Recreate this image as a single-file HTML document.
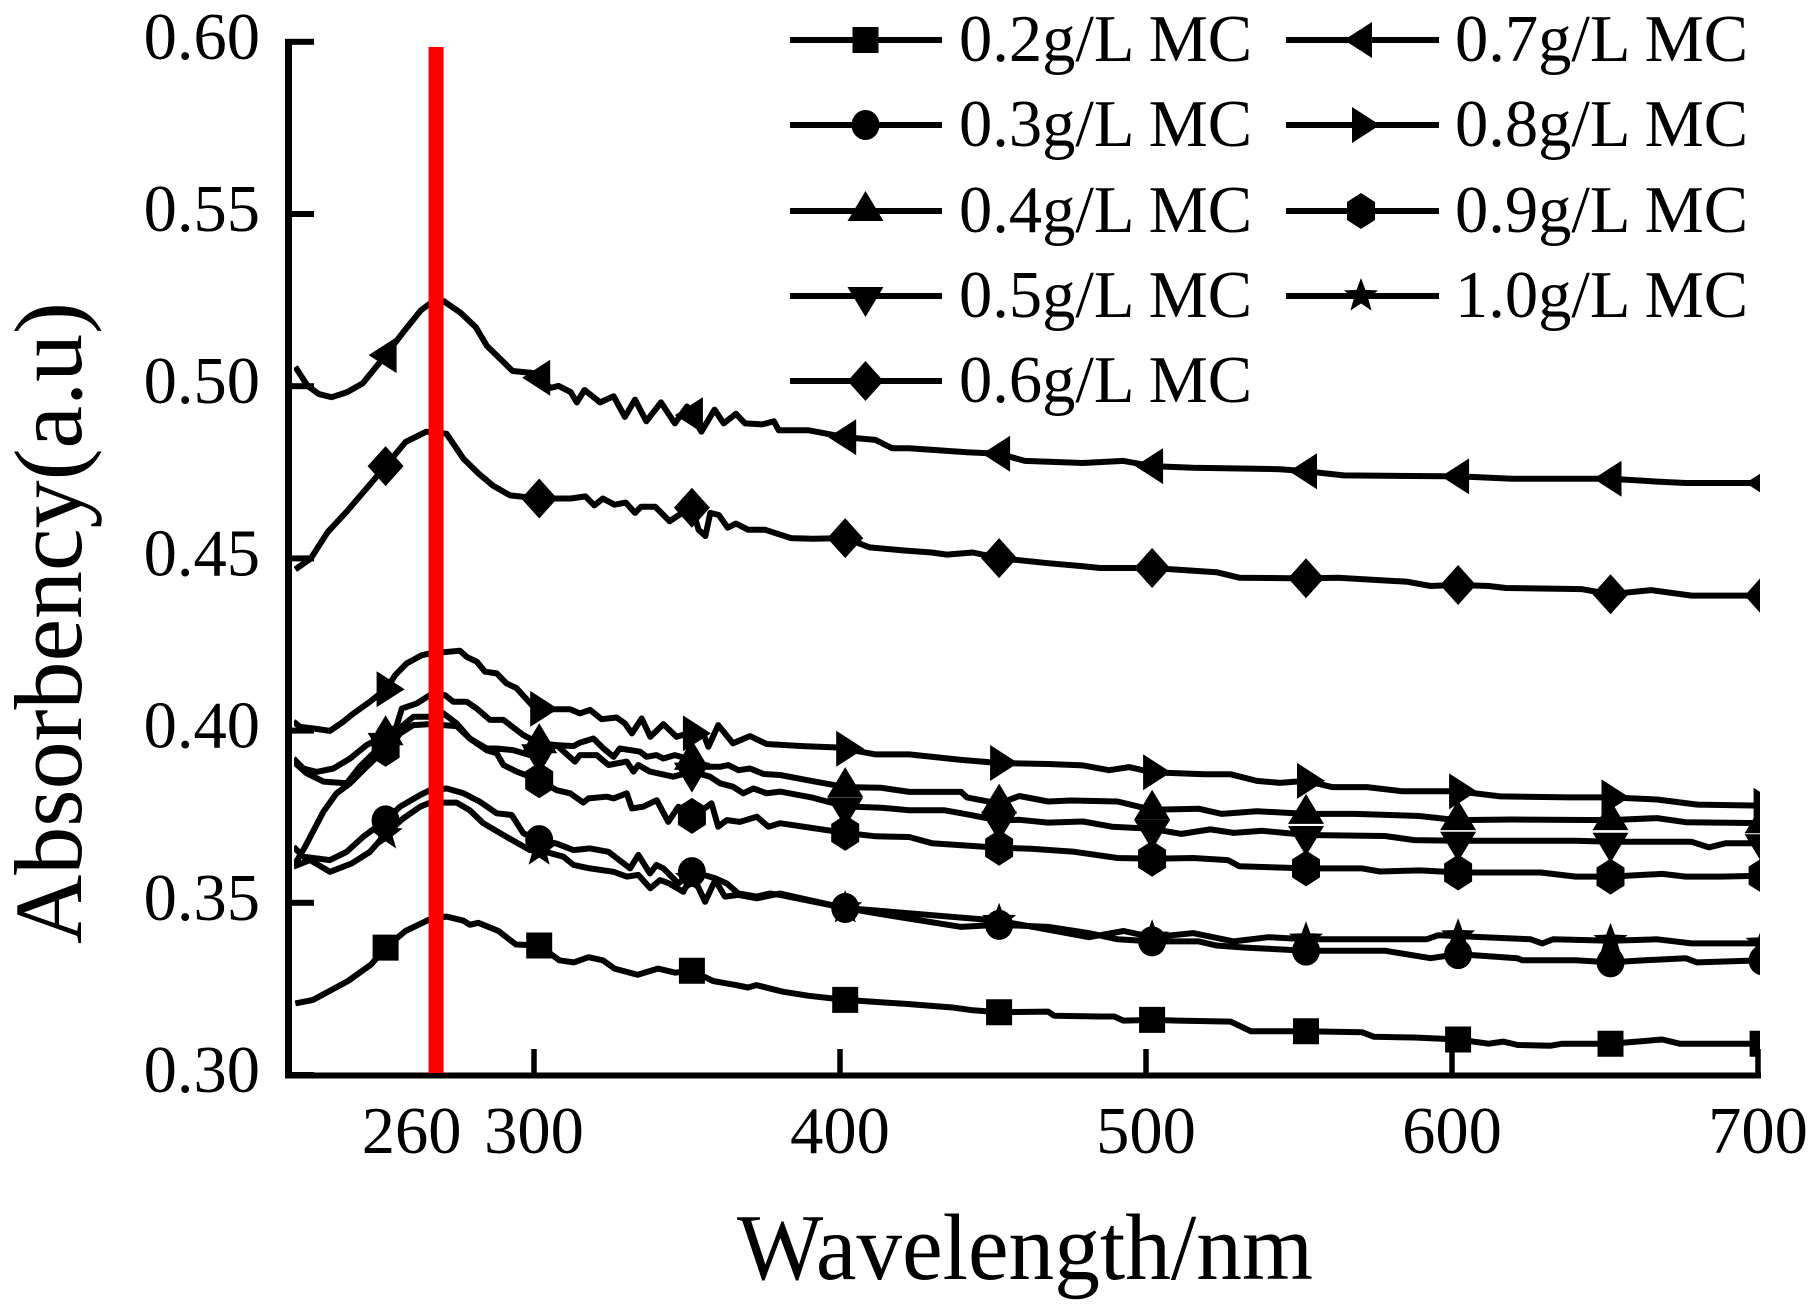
<!DOCTYPE html>
<html lang="en">
<head>
<meta charset="utf-8">
<title>Absorbency vs Wavelength</title>
<style>
html,body{margin:0;padding:0;background:#fff}
svg{display:block}
text{font-family:"Liberation Serif",serif;fill:#000}
</style>
</head>
<body>
<svg id="chart" xmlns="http://www.w3.org/2000/svg" width="1818" height="1307" viewBox="0 0 1818 1307">
  <rect x="0" y="0" width="1818" height="1307" fill="#fff"/>
  <defs><clipPath id="plot-clip"><rect x="294" y="30" width="1466" height="1050"/></clipPath></defs>
  <g id="series-layer" clip-path="url(#plot-clip)"></g>
  <g id="axis-layer"></g>
  <g id="annotation-layer"></g>
  <text x="737" y="1279" font-size="94" textLength="576" lengthAdjust="spacingAndGlyphs">Wavelength/nm</text>
  <text transform="translate(81,944) rotate(-90)" x="0" y="0" font-size="96" textLength="642" lengthAdjust="spacingAndGlyphs">Absorbency(a.u)</text>
  <g id="legend">
    <g><line x1="790" x2="942" y1="40" y2="40" stroke="#000" stroke-width="6"/><text x="959" y="61" font-size="66.5">0.2g/L MC</text></g>
    <g><line x1="790" x2="942" y1="125" y2="125" stroke="#000" stroke-width="6"/><text x="959" y="146" font-size="66.5">0.3g/L MC</text></g>
    <g><line x1="790" x2="942" y1="211" y2="211" stroke="#000" stroke-width="6"/><text x="959" y="232" font-size="66.5">0.4g/L MC</text></g>
    <g><line x1="790" x2="942" y1="296" y2="296" stroke="#000" stroke-width="6"/><text x="959" y="317" font-size="66.5">0.5g/L MC</text></g>
    <g><line x1="790" x2="942" y1="381" y2="381" stroke="#000" stroke-width="6"/><text x="959" y="402" font-size="66.5">0.6g/L MC</text></g>
    <g><line x1="1286" x2="1439" y1="40" y2="40" stroke="#000" stroke-width="6"/><text x="1455" y="61" font-size="66.5">0.7g/L MC</text></g>
    <g><line x1="1286" x2="1439" y1="125" y2="125" stroke="#000" stroke-width="6"/><text x="1455" y="146" font-size="66.5">0.8g/L MC</text></g>
    <g><line x1="1286" x2="1439" y1="211" y2="211" stroke="#000" stroke-width="6"/><text x="1455" y="232" font-size="66.5">0.9g/L MC</text></g>
    <g><line x1="1286" x2="1439" y1="296" y2="296" stroke="#000" stroke-width="6"/><text x="1455" y="317" font-size="66.5">1.0g/L MC</text></g>
  </g>
</svg>
<script>
// ---- tick labels and categories ----
const yTicks = [0.30, 0.35, 0.40, 0.45, 0.50, 0.55, 0.60];
const yTickLabels = ['0.30', '0.35', '0.40', '0.45', '0.50', '0.55', '0.60'];
const xTicks = [300, 400, 500, 600, 700];
const xLabelValues = [260, 300, 400, 500, 600, 700];
const xLabels = ['260', '300', '400', '500', '600', '700'];
const markerWavelengths = [251.5, 301.7, 351.6, 401.7, 452, 502, 552.3, 602, 651.8, 701.5];
const referenceWavelength = 268;
const referenceTop = 0.5985;

// ---- series values ----
const wl02 = [222,227.8,239.2,246.8,251.5,258,265.7,271.4,277,279,281.8,288.4,294.1,301.7,308.3,313,317.8,322.5,326.3,333.9,340.5,346.2,351.5,358.5,366,369.9,372.7,381.3,389.8,401.7,422.6,436.8,443.4,452,468,470,485,489.6,492.6,502,510.6,527.6,534.3,552.3,570.7,574.5,587.7,602,612,616.7,621.5,632.3,636,651.8,668.7,674.4,702];
const abs02 = [.3208,.3218,.3273,.3321,.337,.3418,.3451,.346,.3448,.3436,.3442,.3418,.3379,.3376,.3333,.3327,.3342,.3333,.3309,.3291,.3309,.3297,.3303,.3273,.3261,.3254,.3261,.3242,.323,.3218,.3206,.3196,.3188,.3182,.3184,.3172,.317,.317,.3158,.316,.3158,.3155,.3127,.3127,.3124,.3111,.3109,.3103,.3091,.3097,.3087,.3085,.3091,.3091,.3103,.3091,.3091];

const wl03 = [221.4,224.6,233.3,238.8,244.2,251.6,256.2,262.8,266,271.5,277,282.4,287.8,292.7,296.5,301.7,307.4,312.9,318.3,324.3,331.4,334.1,337.9,340,342.3,347.2,351.7,359.2,363,366.8,372.8,377,380.4,401.7,413.5,422.6,439.6,452,468,481.3,490.7,502,517.3,523,532.5,552.3,578,593,602,612,621.3,623,640.4,651.8,663,676.4,680,702];
const abs03 = [.3663,.3634,.3624,.3648,.3692,.374,.3779,.3813,.3827,.3832,.3818,.3793,.376,.3755,.3702,.3682,.3672,.3653,.3658,.3648,.36,.3639,.3585,.361,.36,.3556,.359,.3571,.3556,.3527,.3518,.3527,.3523,.3485,.3467,.3454,.343,.3436,.343,.3412,.3394,.3388,.3388,.3376,.337,.3361,.3361,.3339,.3351,.3345,.3339,.3333,.3333,.3327,.3333,.3339,.3327,.3333];

const wl04 = [221.4,224.6,229,234.4,239.9,245.3,251.6,255,256.8,261.7,266,270.9,273.6,278,281.3,285.6,290,296.5,301.7,307.4,312.9,315,319.4,322.7,326,328,334.6,336.8,340,342.3,346,351.6,357.5,360.8,363.5,366.8,370.6,375,380.4,390.7,401.7,413.5,422.6,439.6,441.5,452,458.6,468,475.6,490.7,502,517.3,524.8,536.2,552.3,568.4,589.3,601.6,619.6,651.8,667,676.4,702];
const abs04 = [.3919,.389,.388,.389,.3919,.3958,.3987,.4011,.4064,.4079,.4103,.4103,.4084,.4084,.4064,.4031,.4031,.3987,.3963,.3958,.3955,.3965,.3977,.3948,.3924,.3948,.3939,.3924,.3929,.3919,.3929,.3915,.3895,.3895,.39,.3885,.389,.3874,.3871,.3854,.3836,.3834,.3822,.3822,.3806,.3788,.381,.3794,.3797,.3794,.377,.3773,.3758,.3766,.3758,.3758,.3752,.374,.3742,.374,.3746,.3734,.3731];

const wl05 = [221.4,225.7,231.2,238.8,243,247.5,251.6,257.3,260.6,266,270.4,274.7,279,284.5,287.8,293.3,298.7,301.7,307.4,313.4,315,320.5,324.3,330.3,332.5,334.1,337.9,345.5,351.6,357.5,360.8,365,368.4,371.7,376,380.4,390.7,401.7,413.5,422.6,434,441.5,452,458.6,468,479.4,488.9,502,511.6,521,528.7,538,552.3,578,587.7,601.6,640.4,651.8,678.3,684,689.5,702];
const abs05 = [.391,.3876,.3852,.3847,.3895,.3934,.3968,.4016,.404,.404,.405,.4021,.3977,.3948,.3948,.3943,.3929,.3934,.3958,.391,.3929,.3929,.39,.391,.3881,.39,.3881,.3866,.3881,.3866,.3847,.3837,.3818,.3832,.3818,.3823,.3806,.378,.3776,.3769,.3769,.3757,.3739,.3741,.3733,.3736,.3721,.3715,.37,.3713,.3703,.3709,.3697,.3694,.3682,.368,.368,.3677,.3677,.3661,.3673,.3673];

const wl06 = [222,227,232.6,239,251.5,258,264.8,271.4,277,281.8,286.6,292.2,301.7,312,316.8,319.7,322.5,326.3,330,333,335,339.6,344.3,351.5,353.8,356,357.6,360.4,363.3,366,370,375.6,384,391,401.7,409.7,421,430,434.9,443.4,452,468,479.4,485,502,523,530.5,551.3,562.7,585.5,593,601.6,612,617.6,642.3,651.8,665,678.3,702];
const abs06 = [.4468,.4499,.4577,.4638,.4768,.4838,.4868,.4862,.4789,.4747,.4711,.4683,.4674,.4674,.468,.4654,.4674,.4656,.4662,.4632,.465,.465,.4608,.465,.4583,.4565,.4632,.4626,.4589,.4601,.4583,.4583,.4559,.4557,.4559,.4532,.4523,.4517,.4511,.4517,.4501,.4486,.4477,.4472,.4472,.446,.4444,.4442,.4444,.4432,.442,.4423,.442,.4414,.4411,.4396,.4408,.4392,.4392];

const wl07 = [222,226,229.7,233.9,239,244,250.6,258,263,266,270.5,276,281,284.6,293,300,305.5,308,312,314,316.5,321.6,326,329.7,333,336.7,341.5,346,350,354.7,359,362,366,369,374.6,378.4,380,389.8,401.7,411.6,417,422.6,441.5,452,460.4,479.4,492.6,502,515.4,543.8,552.3,564.6,602.5,619.6,651.8,667,676.4,702];
const abs07 = [.5056,.5001,.4977,.4968,.4983,.5008,.508,.5165,.522,.524,.5247,.5213,.5171,.5117,.5044,.5038,.4995,.5001,.4983,.4953,.4989,.4953,.4971,.4911,.4961,.4898,.4953,.4892,.4941,.4868,.4932,.4892,.492,.4892,.4889,.4898,.4872,.4872,.4852,.4844,.482,.482,.4808,.4804,.4783,.4777,.4783,.4768,.4763,.4759,.4753,.4741,.4738,.4731,.4731,.4723,.4719,.4719];

const wl08 = [221.4,223.5,228,233.3,237.7,241,246.4,251.9,254.6,258.4,263.3,266,275.8,278,281.3,284,287.8,291,294.3,299.8,302,311.8,315,318.3,322.1,327,329.7,332,335.2,338,342.3,346.6,350.4,355.3,357,360.2,365,370.6,376,387.9,399.3,411.6,422.6,439.6,452,468,479.4,487.9,494.5,502,519,527.7,536.2,543.8,552.3,560.8,572.2,583.6,601.6,615.8,638.5,651.8,667,680.2,702];
const abs08 = [.4026,.4011,.4006,.3999,.4026,.405,.4084,.4123,.4161,.4195,.4219,.4224,.4232,.4214,.42,.4171,.4166,.4137,.4123,.4069,.4062,.4062,.405,.406,.4033,.4038,.4021,.3992,.4035,.3982,.4019,.3982,.3992,.3992,.3953,.4016,.3963,.3984,.3961,.3955,.3951,.3931,.3931,.3915,.3906,.3903,.3899,.3885,.3894,.3879,.3873,.3873,.3854,.3848,.3854,.3836,.3836,.3824,.3824,.3809,.3806,.3806,.38,.3785,.3782];

const wl09 = [221.4,225.2,231.2,235.5,239.9,245.3,251.6,256.2,260.6,266,274.7,279,284.5,287.8,290,294.3,301.7,307.4,311.8,316.1,317.8,323.8,326,330.3,332,335.7,340.1,343.9,347.2,352,358,360.2,363,367.3,372.8,376.6,380.4,401.7,411.6,422.6,430,452,462.4,476.6,490.7,502,515.4,526.8,530.5,552.3,570.7,576.4,589.6,602,629,640.4,651.8,668.7,676.4,687.7,702];
const abs09 = [.3605,.3663,.3765,.3818,.3847,.3895,.3948,.3992,.4016,.4019,.4013,.3977,.3943,.3934,.39,.3881,.3856,.3827,.3818,.3791,.3803,.3808,.3803,.3818,.3774,.3779,.3798,.3735,.3779,.375,.3789,.3721,.374,.3735,.375,.3721,.3731,.3703,.3693,.3691,.3673,.366,.3657,.3648,.363,.3628,.363,.3624,.3606,.36,.36,.3591,.3594,.3588,.3588,.3576,.3576,.3584,.3576,.3576,.3579];

const wl10 = [221.4,226.8,233.3,240.4,246.4,251.6,257.3,262.8,266,274.7,279,283.4,290.9,298.7,301.7,309.6,312.9,318.3,326,330.3,334.1,338,341.2,344,348.8,351,352.4,355.9,359.2,362.4,366.8,372.8,380.4,401.7,452,468,481.3,492.7,502,515.4,528.7,540,552.3,591.7,595.5,625.7,629.5,633,651.8,667,678.3,702];
const abs10 = [.3605,.3624,.359,.3614,.3648,.3701,.3745,.3779,.3791,.3791,.3769,.3731,.3692,.3653,.3653,.3634,.361,.36,.359,.3576,.3581,.3542,.3566,.3557,.3532,.357,.357,.3503,.3566,.3518,.3523,.3513,.3527,.3485,.3448,.3422,.34,.3418,.34,.3412,.3388,.34,.3394,.3394,.3406,.3394,.3382,.3394,.339,.3394,.3382,.3382];

const NS = 'http://www.w3.org/2000/svg';
const svg = document.getElementById('chart');
const seriesLayer = document.getElementById('series-layer');
const axisLayer = document.getElementById('axis-layer');
const annotationLayer = document.getElementById('annotation-layer');
const legend = document.getElementById('legend');

// ---- axis functions ----
function xScale(w) { return 534 + (w - 300) * 3.06; }
function yScale(v) { return 1075 - (v - 0.30) * 3444; }

function interp(wl, ab, w) {
  if (w <= wl[0]) return ab[0];
  for (let i = 1; i < wl.length; i++) {
    if (w <= wl[i]) {
      const t = (w - wl[i - 1]) / (wl[i] - wl[i - 1]);
      return ab[i - 1] + t * (ab[i] - ab[i - 1]);
    }
  }
  return ab[ab.length - 1];
}

function markerPath(shape, x, y) {
  const p = [];
  if (shape === 'square') { p.push([-13,-13],[13,-13],[13,13],[-13,13]); }
  if (shape === 'triangle-up') { p.push([0,-20],[18,10],[-18,10]); }
  if (shape === 'triangle-down') { p.push([-18,-9],[18,-9],[0,21]); }
  if (shape === 'diamond') { p.push([0,-20],[18,0],[0,20],[-18,0]); }
  if (shape === 'triangle-left') { p.push([-17,0],[11,-18],[11,18]); }
  if (shape === 'triangle-right') { p.push([19,0],[-9,-18],[-9,18]); }
  if (shape === 'hexagon') { p.push([0,-18],[14,-9],[14,9],[0,18],[-14,9],[-14,-9]); }
  if (shape === 'star') {
    for (let k = 0; k < 10; k++) {
      const r = k % 2 === 0 ? 18 : 7.5;
      const a = -Math.PI / 2 + k * Math.PI / 5;
      p.push([r * Math.cos(a), r * Math.sin(a)]);
    }
  }
  return p.map(q => (x + q[0]).toFixed(1) + ',' + (y + q[1]).toFixed(1)).join(' ');
}

function drawMarker(parent, shape, x, y, name) {
  let el;
  if (shape === 'circle') {
    el = document.createElementNS(NS, 'ellipse');
    el.setAttribute('cx', x);
    el.setAttribute('cy', y);
    el.setAttribute('rx', 14);
    el.setAttribute('ry', 15);
  } else {
    el = document.createElementNS(NS, 'polygon');
    el.setAttribute('points', markerPath(shape, x, y));
  }
  el.setAttribute('fill', '#000');
  
  
  parent.appendChild(el);
}

function drawSeries(name, shape, wl, ab) {
  const g = document.createElementNS(NS, 'g');
  
  
  const line = document.createElementNS(NS, 'polyline');
  line.setAttribute('points', wl.map((w, i) => xScale(w).toFixed(1) + ',' + yScale(ab[i]).toFixed(1)).join(' '));
  line.setAttribute('fill', 'none');
  line.setAttribute('stroke', '#000');
  line.setAttribute('stroke-width', '6');
  line.setAttribute('stroke-linejoin', 'round');
  
  
  g.appendChild(line);
  markerWavelengths.forEach(function (w) {
    drawMarker(g, shape, xScale(w), yScale(interp(wl, ab, w)), name + '-marker');
  });
  seriesLayer.appendChild(g);
}

drawSeries('series-0-2', 'square', wl02, abs02);
drawSeries('series-0-3', 'circle', wl03, abs03);
drawSeries('series-0-4', 'triangle-up', wl04, abs04);
drawSeries('series-0-5', 'triangle-down', wl05, abs05);
drawSeries('series-0-6', 'diamond', wl06, abs06);
drawSeries('series-0-7', 'triangle-left', wl07, abs07);
drawSeries('series-0-8', 'triangle-right', wl08, abs08);
drawSeries('series-0-9', 'hexagon', wl09, abs09);
drawSeries('series-1-0', 'star', wl10, abs10);

// ---- axes ----
function addRect(parent, x, y, w, h, fill, name) {
  const r = document.createElementNS(NS, 'rect');
  r.setAttribute('x', x);
  r.setAttribute('y', y);
  r.setAttribute('width', w);
  r.setAttribute('height', h);
  r.setAttribute('fill', fill);
  
  
  parent.appendChild(r);
}
function addText(parent, x, y, anchor, str, name) {
  const t = document.createElementNS(NS, 'text');
  t.setAttribute('x', x);
  t.setAttribute('y', y);
  t.setAttribute('text-anchor', anchor);
  t.setAttribute('font-size', '66.5');
  
  
  t.textContent = str;
  parent.appendChild(t);
}

addRect(axisLayer, 285, yScale(0.60) - 3, 7, yScale(0.30) - yScale(0.60) + 6, '#000', 'y-axis-line');
addRect(axisLayer, 285, yScale(0.30) - 2.5, xScale(700) - 285 + 3, 6, '#000', 'x-axis-line');

yTicks.forEach(function (v, i) {
  addRect(axisLayer, 292, yScale(v) - 3, 22, 6, '#000', 'y-tick');
  addText(axisLayer, 260, yScale(v) + 17, 'end', yTickLabels[i], 'y-tick-label');
});
xTicks.forEach(function (w) {
  addRect(axisLayer, xScale(w) - 2.75, yScale(0.30) - 26, 5.5, 26, '#000', 'x-tick');
});
xLabelValues.forEach(function (w, i) {
  addText(axisLayer, xScale(w), 1153, 'middle', xLabels[i], 'x-tick-label');
});

// ---- reference line ----
addRect(annotationLayer, xScale(referenceWavelength) - 7.5, yScale(referenceTop), 15, yScale(0.30) - yScale(referenceTop) - 2, '#ff0000', 'reference-line');

// ---- legend markers ----
const legendGroups = legend.querySelectorAll('g');
drawMarker(legendGroups[0], 'square', 865.5, 40, 'legend-marker-square');
drawMarker(legendGroups[1], 'circle', 865.5, 125, 'legend-marker-circle');
drawMarker(legendGroups[2], 'triangle-up', 865.5, 211, 'legend-marker-triangle-up');
drawMarker(legendGroups[3], 'triangle-down', 865.5, 296, 'legend-marker-triangle-down');
drawMarker(legendGroups[4], 'diamond', 865.5, 381, 'legend-marker-diamond');
drawMarker(legendGroups[5], 'triangle-left', 1361, 40, 'legend-marker-triangle-left');
drawMarker(legendGroups[6], 'triangle-right', 1361, 125, 'legend-marker-triangle-right');
drawMarker(legendGroups[7], 'hexagon', 1361, 211, 'legend-marker-hexagon');
drawMarker(legendGroups[8], 'star', 1361, 296, 'legend-marker-star');
</script>
</body>
</html>
